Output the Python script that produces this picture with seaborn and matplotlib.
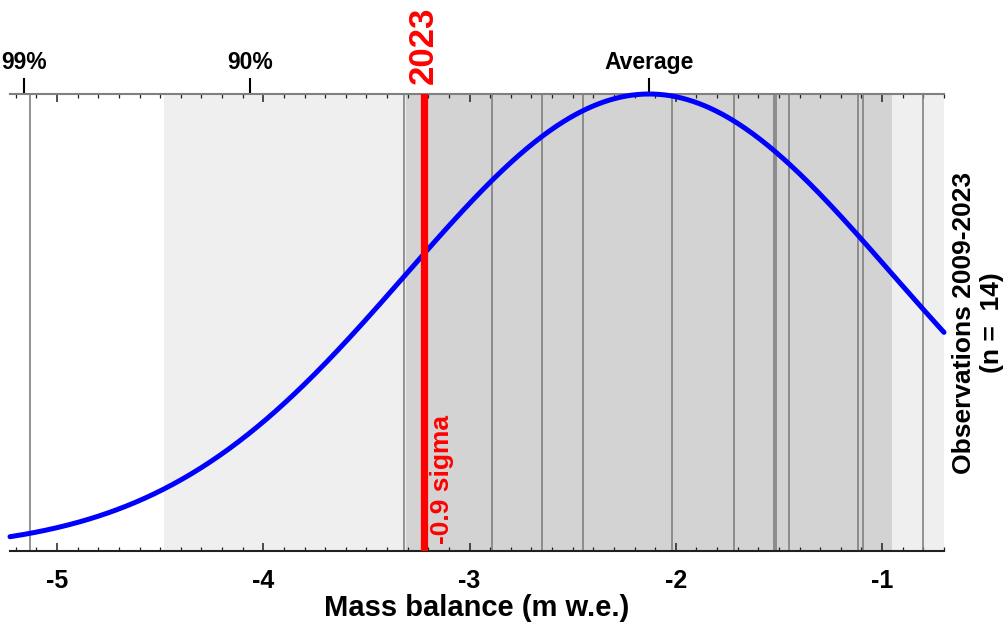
import numpy as np
import pandas as pd
import matplotlib
matplotlib.use('Agg')
import matplotlib.pyplot as plt
from matplotlib.ticker import MultipleLocator, NullLocator
import seaborn as sns

# annual mass balance of the reference years (m w.e.)
ref_balance = [-5.13, -3.32, -2.89, -2.65, -2.45, -2.02, -1.72,
               -1.525, -1.515, -1.45, -1.115, -1.095, -0.80]
year_label = '2023'
year_balance = -3.22
n_obs = 14
period = '2009-2023'

# percentile marks on the top axis (one-sided z from the mean)
pct_labels = ['99%', '90%', 'Average']
pct_z = [2.576, 1.645, 0.0]

x_range = (-5.228, -0.70)
x_ticks = [-5, -4, -3, -2, -1]

sns.set_theme(style='white')
plt.rcParams['font.family'] = ['Liberation Sans', 'DejaVu Sans']
plt.rcParams['font.weight'] = 'bold'
plt.rcParams['axes.unicode_minus'] = False
plt.rcParams['text.color'] = 'black'
plt.rcParams['axes.labelcolor'] = 'black'

# normal distribution fitted to the reference years
mean = np.mean(ref_balance)
sd = np.std(ref_balance, ddof=1)
sigma = (year_balance - mean) / sd

grid = np.linspace(x_range[0], x_range[1], 500)
dens = np.exp(-0.5 * ((grid - mean) / sd) ** 2) / (sd * np.sqrt(2 * np.pi))
curve = pd.DataFrame({'mb': grid, 'density': dens})

fig = plt.figure(figsize=(10.08, 6.29), dpi=100)
ax = fig.add_axes([10 / 1008, 1 - 551 / 629, 934 / 1008, 457 / 629])

# +-2 sigma and +-1 sigma bands
ax.axvspan(mean - 2 * sd, mean + 2 * sd, color='#efefef', lw=0, zorder=0)
ax.axvspan(mean - sd, mean + sd, color='#d3d3d3', lw=0, zorder=0)

# single years
for v in ref_balance + [year_balance]:
    ax.axvline(v, color='#808080', lw=1.2, zorder=1)

sns.lineplot(data=curve, x='mb', y='density', color='blue', lw=3.6,
             ax=ax, zorder=3, clip_on=False)
ax.axvline(year_balance, color='red', lw=5.2, zorder=4)

ax.set_xlim(x_range)
ax.set_ylim(0, dens.max())

for s in ['left', 'right']:
    ax.spines[s].set_visible(False)
ax.spines['top'].set_color('#808080')
ax.spines['top'].set_linewidth(1.5)
ax.spines['bottom'].set_color('#202020')
ax.spines['bottom'].set_linewidth(1.5)

ax.set_xticks(x_ticks)
ax.xaxis.set_minor_locator(MultipleLocator(0.1))
ax.set_yticks([])
ax.tick_params(axis='x', which='both', direction='in', top=True, bottom=True,
               color='#202020', labelcolor='black')
ax.tick_params(axis='x', which='major', length=6, width=1.1, labelsize=18, pad=13)
ax.tick_params(axis='x', which='minor', length=2.6, width=0.9)

ax.set_xlabel('Mass balance (m w.e.)', fontsize=21, fontweight='bold', labelpad=1)
ax.yaxis.set_label_position('right')
ax.set_ylabel(f'Observations {period}\n(n = {n_obs:3d})', fontsize=19,
              fontweight='bold', labelpad=6, linespacing=1.2)

# top axis with percentile marks
secax = ax.secondary_xaxis('top')
secax.set_xticks([mean - z * sd for z in pct_z], pct_labels)
secax.xaxis.set_minor_locator(NullLocator())
secax.tick_params(direction='out', length=11.5, width=1.5, labelsize=16.5,
                  pad=3, colors='black')
for s in secax.spines.values():
    s.set_visible(False)

ax.annotate(year_label, xy=(year_balance, 1), xycoords=('data', 'axes fraction'),
            xytext=(-1, 7), textcoords='offset points', rotation=90,
            ha='center', va='bottom', color='red', fontsize=25, fontweight='bold')
ax.annotate(f'{sigma:.1f} sigma', xy=(year_balance, 0),
            xycoords=('data', 'axes fraction'), xytext=(4, 5),
            textcoords='offset points', rotation=90, ha='left', va='bottom',
            color='red', fontsize=19, fontweight='bold')

fig.savefig('out.png', dpi=100)
